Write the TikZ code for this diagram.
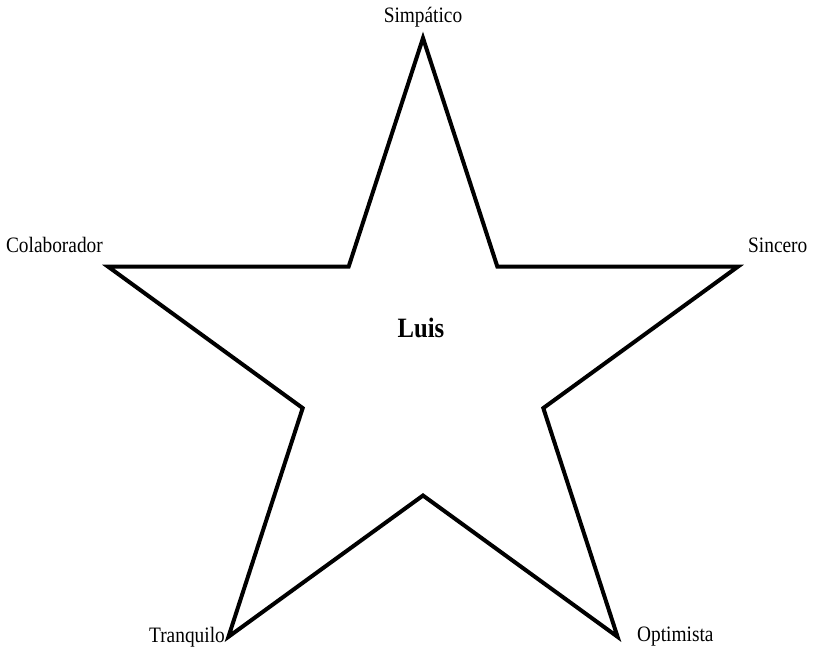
\documentclass[tikz,border=0pt]{standalone}
\usepackage{fontspec}
\setmainfont{Liberation Serif}[FakeStretch=0.88]
\usepackage{tikz}
\usetikzlibrary{positioning, calc}

\begin{document}
\begin{tikzpicture}[
    x=1pt,
    y=-1pt,
    font=\fontsize{22}{25}\selectfont,
    starline/.style={draw=black, line width=4pt, line join=miter, miter limit=10},
    trait/.style={inner sep=1pt},
    centre/.style={font=\fontsize{28}{31}\selectfont\bfseries}
]
\useasboundingbox (0,0) rectangle (819,648);
% star points around the centre (y grows downwards)
\coordinate (mid) at (423,369);
\foreach \k in {1,...,5} {
    \coordinate (outer\k) at ($(mid)+({-90+72*(\k-1)}:331)$);
    \coordinate (inner\k) at ($(mid)+({-54+72*(\k-1)}:126.5)$);
}
\draw[starline] (outer1) -- (inner1) -- (outer2) -- (inner2) -- (outer3) -- (inner3)
    -- (outer4) -- (inner4) -- (outer5) -- (inner5) -- cycle;
\node[centre] (luis) at (421,328) {Luis};
\node[trait] (simpatico) at (423,17) {Simpático};
\node[trait, anchor=east] (colaborador) at (104,245) {Colaborador};
\node[trait, anchor=west] (sincero) at (747,245) {Sincero};
\node[trait, anchor=east] (tranquilo) at (226,637) {Tranquilo};
\node[trait, anchor=west] (optimista) at (636,637) {Optimista};
\end{tikzpicture}
\end{document}
